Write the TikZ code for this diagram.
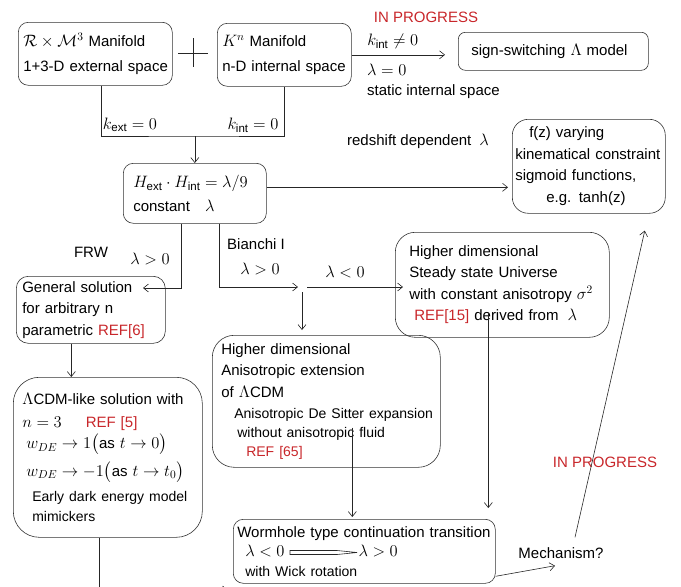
\RequirePackage{fix-cm}
\documentclass[tikz,border=0pt]{standalone}
\usepackage{amsmath}
\usepackage{fontspec}
\setmainfont{Liberation Sans}
\usepackage{tikz}
\usetikzlibrary{arrows.meta}
\definecolor{refred}{RGB}{200,38,42}
\DeclareMathSizes{15}{16.5}{11.5}{9}
\DeclareMathSizes{14}{15.5}{11}{8.5}
\newcommand\fs{\fontsize{15}{21.5}\selectfont}
\newcommand\fss{\fontsize{14}{18}\selectfont}
\newcommand\refc[1]{\textcolor{refred}{#1}}
\tikzstyle{box}=[draw=black!80, line width=.6pt, anchor=north west, align=left, inner ysep=0pt, font=\fs]
\tikzstyle{lbl}=[inner sep=0pt, font=\fs]
\tikzstyle{arrhead}=[>/.tip={Straight Barb[length=5pt,width=8pt]}]
\tikzstyle{wire}=[line width=.6pt, draw=black!85]
\tikzstyle{arr}=[wire, arrhead, ->]
\begin{document}
\begin{tikzpicture}[x=1pt,y=-1pt]
\useasboundingbox (0,0) rectangle (681,587);
% boxes
\node[box, rounded corners=10pt, text width=144pt, inner xsep=5pt, minimum height=63pt] (ext) at (18,22)
  {\mbox{$\mathcal{R}\times\mathcal{M}^3$ Manifold}\\[3pt]\mbox{1+3-D external space}};
\node[box, rounded corners=10pt, text width=124pt, inner xsep=5pt, minimum height=63pt] (int) at (217,23)
  {$K^n$ Manifold\\[3pt]\mbox{n-D internal space}};
\node[box, rounded corners=7pt, text width=164pt, inner xsep=13pt, minimum height=38pt] (sign) at (458,32)
  {sign-switching $\Lambda$ model};
\node[box, rounded corners=10pt, text width=123pt, inner xsep=10pt, minimum height=60pt] (hub) at (123,163)
  {\mbox{$H_{\text{ext}}\cdot H_{\text{int}}=\lambda/9$}\\[2pt]constant\quad$\lambda$};
\node[box, rounded corners=16pt, text width=147pt, inner xsep=3pt, minimum height=94pt] (fz) at (512,119)
  {\hspace*{14pt}f(z) varying\\\mbox{kinematical constraint}\\sigmoid functions,\\\hspace*{31pt}e.g. tanh(z)};
\node[box, rounded corners=12pt, text width=137pt, inner xsep=6pt, minimum height=67pt] (frw) at (16,276)
  {General solution\\for arbitrary n\\parametric \refc{REF[6]}};
\node[box, rounded corners=20pt, text width=186pt, inner xsep=14pt, minimum height=105pt] (steady) at (395,232)
  {Higher dimensional\\Steady state Universe\\\mbox{with constant anisotropy $\sigma^2$}\\\hspace*{5pt}\refc{REF[15]} derived from\hspace{9pt}$\lambda$};
\node[box, rounded corners=22pt, text width=210pt, inner xsep=9pt, minimum height=132pt] (aniso) at (212,335)
  {Higher dimensional\\Anisotropic extension\\of $\Lambda$CDM\\[0pt]
   \hspace*{13pt}\mbox{\fss Anisotropic De Sitter expansion}\\[-3pt]
   \hspace*{16pt}\mbox{\fss without anisotropic fluid}\\[-2pt]
   \hspace*{25pt}{\fss\refc{REF [65]}}};
\node[box, rounded corners=26pt, text width=171pt, inner xsep=9pt, minimum height=160pt] (lcdm) at (13,377)
  {\mbox{$\Lambda$CDM-like solution with}\\[1pt]$n=3$\hspace{24pt}\refc{REF [5]}\\[0pt]
   \hspace*{4pt}$w_{DE}\to1\bigl(\text{as }t\to0\bigr)$\\[6pt]
   \hspace*{4pt}$w_{DE}\to-1\bigl(\text{as }t\to t_0\bigr)$\\[4pt]
   \hspace*{10pt}\mbox{\fss Early dark energy model}\\[-2pt]
   \hspace*{10pt}{\fss mimickers}};
\node[box, rounded corners=10pt, text width=254pt, inner xsep=4pt, minimum height=64pt] (worm) at (233,519)
  {\mbox{Wormhole type continuation transition}\\[-2pt]
   \hspace*{8pt}$\lambda<0$\hspace{74pt}$\lambda>0$\\[-2pt]
   \hspace*{8pt}{\fss with Wick rotation}};
\draw[wire, shift={(worm.north west)}] (57,31.5) -- (104,31.5) -- (124,33.5) -- (104,35.5) -- (57,35.5) -- cycle;
% labels
\node[lbl] (kext) at (130,125) {$k_{\text{ext}}=0$};
\node[lbl] (kint) at (253,125) {$k_{\text{int}}=0$};
\node[lbl, text=refred] (prog1) at (426,17) {IN PROGRESS};
\node[lbl, align=left, anchor=north west] (static) at (367,64) {$\lambda=0$\\[-2pt]static internal space};
\node[lbl] (redshift) at (418,141) {redshift dependent\hspace{8pt}$\lambda$};
\node[lbl] (frwl) at (91,252) {FRW};
\node[lbl] (frwlam) at (150,259) {$\lambda>0$};
\node[lbl] (bianchi) at (256,244) {Bianchi I};
\node[lbl] (bianlam) at (260,269) {$\lambda>0$};
\node[lbl] (neglam) at (345,272) {$\lambda<0$};
\node[lbl] (mech) at (561,553) {Mechanism?};
\node[lbl, text=refred] (prog2) at (605,462) {IN PROGRESS};
% plus sign
\coordinate (plus) at (193,53);
\draw[wire] (plus) +(-15,0) -- +(15,0) (plus) +(0,-15) -- +(0,14);
% connectors
\coordinate (join) at (hub.north |- 0,136);
\draw[wire] ([xshift=6pt]ext.south) |- (join) -| (int.south);
\draw[arr] (join) -- (hub.north);
\draw[arr, shorten >=13pt] (int.east) -- node[above, xshift=-12pt, yshift=2pt, font=\fs]{$k_{\text{int}}\neq0$} (int.east -| sign.west);
\draw[arr, shorten >=4pt] ([yshift=6pt]hub.east) -- ([yshift=6pt]hub.east -| fz.west);
\coordinate (frwtip) at (143,288);
\draw[arr] ([xshift=-13.5pt]hub.south) |- (frwtip);
\coordinate (split) at (302,287);
\draw[arr] ([xshift=24.5pt]hub.south) |- ([xshift=-4pt]split);
\draw[arr] ([xshift=5pt]split) -- ([xshift=8pt]split -| steady.west);
\draw[arr, shorten >=5pt] ([yshift=-5pt]split) -- (split |- aniso.north);
\coordinate (fl) at ([xshift=-19.5pt]frw.south);
\draw[arr] (fl) -- (fl |- lcdm.north);
\coordinate (hj) at ([xshift=26pt,yshift=40pt]aniso.south);
\draw[arr, shorten >=2pt] (hj) -- (hj |- worm.north);
\coordinate (gj) at ([xshift=-14pt,yshift=25pt]steady.south);
\draw[arr, shorten >=11pt] (gj) -- (gj |- worm.north);
\draw[arr] ([yshift=-25pt]worm.east) -- ([xshift=-6pt,yshift=-7pt]mech.south);
\draw[arr] ([xshift=14pt,yshift=10pt]mech.north) -- ([xshift=56pt,yshift=-17pt]fz.south);
\begin{scope}
\clip (0,0) rectangle (681,587);
\coordinate (ll) at ([xshift=-8.5pt]lcdm.south);
\draw[arr] (ll) |- ([xshift=-5pt]worm.west |- 0,590);
\end{scope}
\end{tikzpicture}
\end{document}
